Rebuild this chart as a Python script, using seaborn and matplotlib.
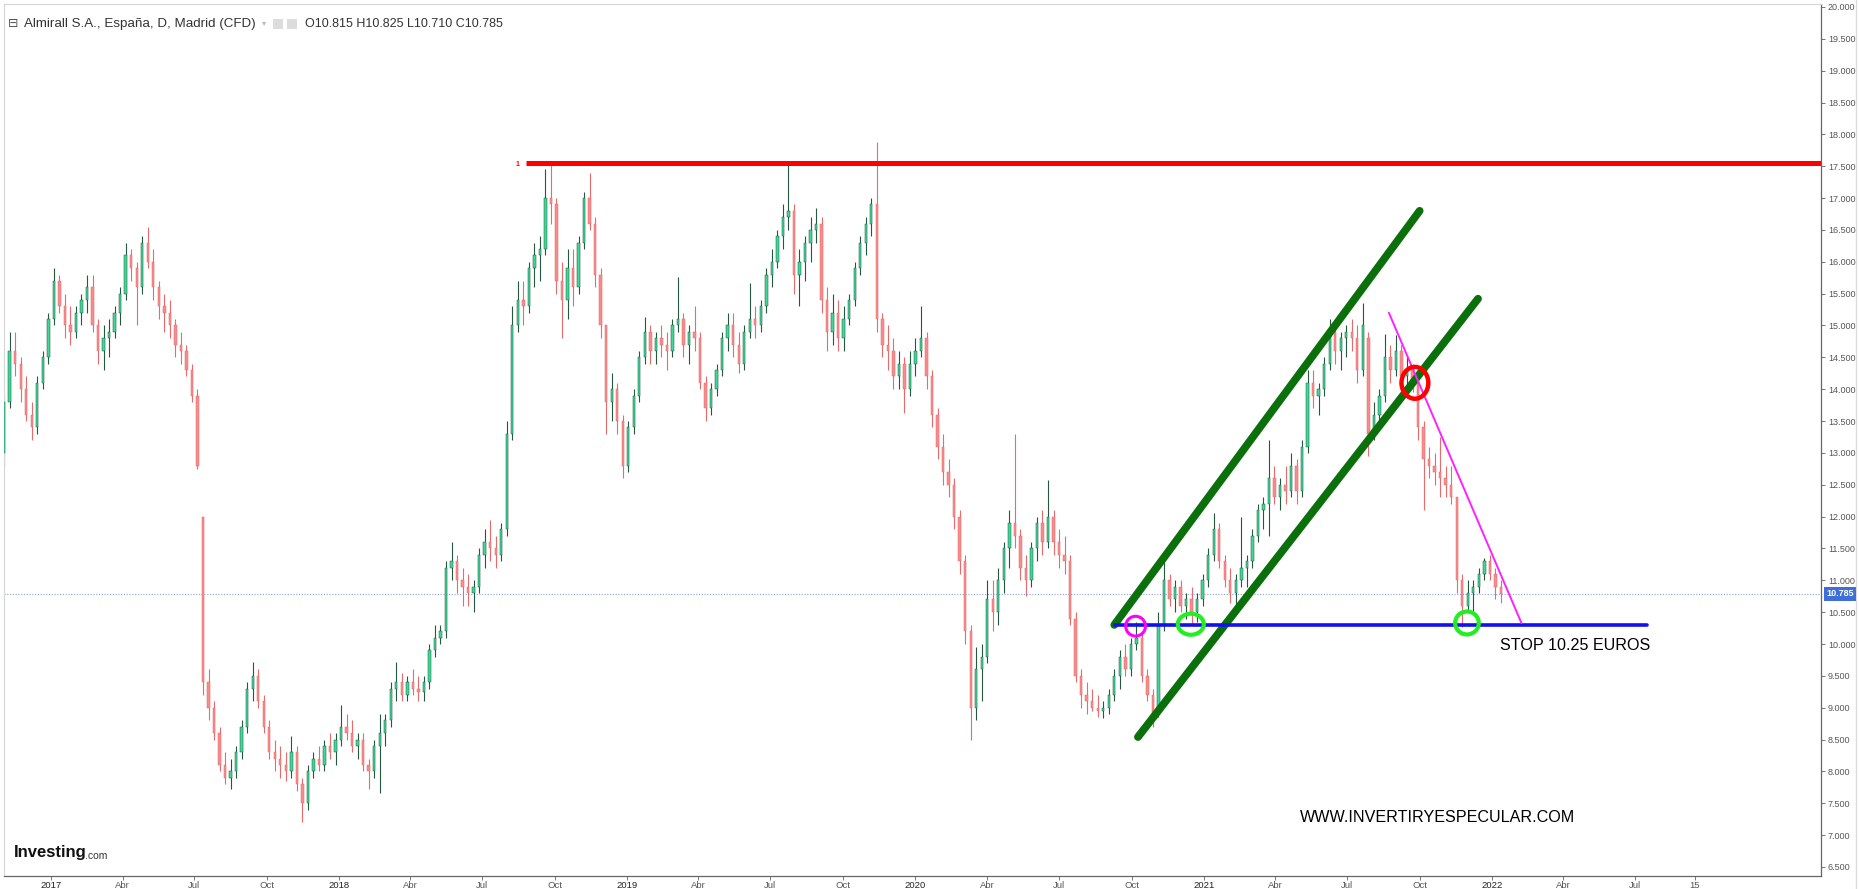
import numpy as np
import pandas as pd
import matplotlib
matplotlib.use("Agg")
import matplotlib.pyplot as plt
import matplotlib.dates as mdates
from matplotlib.patches import Ellipse, Rectangle
import seaborn as sns

# ==========================================
# DATA (weekly candles, first week starts Mon 2016-10-31)
# ==========================================
FIRST_WEEK = "2016-10-31"

opens = [
    13.0, 13.8, 14.6, 14.4, 14.0, 13.6, 13.4, 14.1, 14.5, 15.1,
    15.7, 15.3, 15.0, 14.9, 15.2, 15.4, 15.6, 15.0, 14.6, 14.8,
    14.9, 15.2, 15.5, 16.1, 15.9, 15.6, 16.3, 16.0, 15.6, 15.3,
    15.2, 15.0, 14.7, 14.6, 14.3, 13.9, 12.0, 9.4, 9.0, 8.6,
    8.1, 7.9, 8.0, 8.3, 8.7, 9.3, 9.5, 9.1, 8.7, 8.3,
    8.2, 8.1, 8.0, 8.3, 7.8, 7.5, 8.0, 8.2, 8.1, 8.4,
    8.3, 8.5, 8.7, 8.6, 8.4, 8.5, 8.1, 8.0, 8.4, 8.6,
    8.8, 9.3, 9.4, 9.2, 9.4, 9.3, 9.25, 9.4, 9.9, 10.1,
    10.2, 11.2, 11.3, 11.0, 10.9, 10.8, 10.9, 11.4, 11.6, 11.5,
    11.4, 11.8, 13.3, 15.0, 15.4, 15.3, 15.9, 16.1, 16.2, 17.0,
    16.9, 15.7, 15.4, 15.9, 15.6, 16.3, 17.0, 16.6, 15.8, 15.0,
    13.8, 14.0, 13.5, 12.8, 13.4, 13.9, 14.5, 14.9, 14.6, 14.8,
    14.7, 14.6, 15.0, 15.1, 14.7, 14.9, 14.8, 14.1, 13.7, 14.0,
    14.3, 14.8, 15.0, 14.7, 14.4, 14.9, 15.1, 15.0, 15.3, 15.8,
    16.0, 16.4, 16.7, 16.8, 15.8, 16.0, 16.3, 16.5, 16.6, 15.4,
    14.9, 15.2, 14.8, 15.1, 15.4, 15.9, 16.3, 16.6, 16.9, 15.1,
    14.7, 14.6, 14.2, 14.4, 14.0, 14.4, 14.6, 14.8, 14.2, 13.6,
    13.1, 12.7, 12.5, 12.0, 11.3, 10.2, 9.0, 9.6, 9.8, 10.7,
    10.5, 11.0, 11.5, 11.9, 11.7, 11.2, 11.0, 11.5, 11.9, 11.6,
    12.0, 11.6, 11.4, 11.3, 10.4, 9.5, 9.2, 9.1, 9.0, 8.95,
    9.0, 9.2, 9.5, 9.8, 9.6, 10.0, 10.1, 9.5, 9.2, 8.9,
    10.3, 11.0, 10.7, 10.9, 10.6, 10.7, 10.5, 10.7, 11.0, 11.4,
    11.8, 11.3, 11.0, 10.8, 11.0, 11.2, 11.3, 11.7, 12.1, 12.2,
    12.6, 12.3, 12.5, 12.4, 12.8, 12.4, 13.1, 14.1, 13.9, 14.0,
    14.4, 14.9, 14.6, 14.8, 14.9, 14.8, 14.3, 14.8, 13.3, 13.6,
    13.9, 14.5, 14.3, 14.6, 14.2, 14.3, 14.1, 13.4, 12.9, 12.8,
    12.7, 12.6, 12.5, 12.3, 11.0, 10.6, 10.8, 10.9, 11.1, 11.3,
    11.1, 10.9,
]
highs = [
    13.9, 14.9, 14.9, 14.5, 14.2, 13.8, 14.2, 14.6, 15.2, 15.9,
    15.8, 15.5, 15.3, 15.3, 15.5, 15.8, 15.8, 15.1, 15.0, 15.1,
    15.3, 15.6, 16.3, 16.2, 16.0, 16.4, 16.55, 16.2, 15.7, 15.5,
    15.4, 15.1, 14.9, 14.7, 14.4, 14.0, 12.0, 9.6, 9.1, 8.7,
    8.3, 8.2, 8.4, 8.8, 9.4, 9.72, 9.6, 9.2, 8.8, 8.5,
    8.4, 8.3, 8.55, 8.4, 7.9, 8.1, 8.3, 8.4, 8.5, 8.6,
    8.6, 9.05, 8.9, 8.8, 8.6, 8.6, 8.2, 8.5, 8.9, 8.9,
    9.4, 9.72, 9.55, 9.5, 9.6, 9.5, 9.5, 10.0, 10.3, 10.3,
    11.3, 11.6, 11.4, 11.2, 11.1, 11.0, 11.5, 11.8, 11.95, 11.7,
    11.9, 13.5, 15.3, 15.7, 15.7, 16.0, 16.3, 16.4, 17.45, 17.55,
    17.0, 16.0, 16.2, 16.2, 16.4, 17.1, 17.4, 16.7, 15.9, 15.0,
    14.25, 14.1, 13.6, 13.5, 14.0, 14.6, 15.13, 15.0, 14.9, 15.0,
    14.9, 15.1, 15.76, 15.2, 15.0, 15.3, 14.9, 14.2, 14.1, 14.4,
    14.9, 15.2, 15.2, 14.9, 15.0, 15.67, 15.3, 15.4, 15.9, 16.2,
    16.5, 16.9, 17.55, 16.9, 16.2, 16.4, 16.7, 16.84, 16.7, 15.6,
    15.5, 15.4, 15.3, 15.5, 16.0, 16.4, 16.7, 17.0, 17.88, 15.2,
    15.0, 14.8, 14.6, 14.5, 14.6, 14.8, 15.3, 14.9, 14.3, 13.7,
    13.3, 12.9, 12.6, 12.1, 11.4, 10.3, 9.95, 10.0, 11.0, 11.0,
    11.2, 11.6, 12.1, 13.3, 11.8, 11.4, 11.6, 12.0, 12.1, 12.57,
    12.1, 11.8, 11.7, 11.4, 10.5, 9.6, 9.4, 9.3, 9.2, 9.1,
    9.3, 9.6, 9.9, 10.0, 10.1, 10.35, 10.2, 9.6, 9.3, 10.5,
    11.3, 11.1, 11.0, 11.0, 10.8, 10.9, 10.8, 11.1, 11.5, 12.05,
    11.9, 11.4, 11.2, 11.1, 12.0, 11.4, 11.8, 12.2, 12.3, 13.2,
    12.8, 12.6, 12.8, 13.0, 12.9, 13.2, 14.3, 14.3, 14.1, 14.5,
    15.1, 15.0, 14.9, 15.0, 15.1, 15.0, 15.35, 14.9, 13.8, 14.0,
    14.86, 14.7, 14.85, 14.7, 14.5, 14.4, 14.2, 13.5, 13.1, 13.0,
    13.25, 12.8, 12.8, 12.3, 11.1, 11.0, 11.0, 11.2, 11.35, 11.4,
    11.2, 11.0,
]
lows = [
    12.8, 13.7, 14.2, 13.8, 13.5, 13.2, 13.3, 14.0, 14.4, 15.0,
    15.2, 14.8, 14.7, 14.8, 15.0, 15.2, 14.9, 14.4, 14.3, 14.5,
    14.8, 15.0, 15.4, 15.7, 15.0, 15.5, 15.9, 15.4, 15.1, 14.9,
    14.8, 14.5, 14.4, 14.2, 13.8, 12.75, 9.2, 8.8, 8.5, 8.0,
    7.8, 7.72, 7.9, 8.2, 8.6, 9.1, 9.0, 8.6, 8.2, 8.0,
    7.9, 7.85, 7.9, 7.7, 7.2, 7.4, 7.9, 8.0, 8.0, 8.2,
    8.1, 8.4, 8.5, 8.3, 8.2, 8.0, 7.72, 7.9, 7.66, 8.4,
    8.7, 9.1, 9.1, 9.1, 9.2, 9.1, 9.1, 9.3, 9.8, 10.0,
    10.1, 11.0, 10.8, 10.6, 10.6, 10.5, 10.8, 11.2, 11.3, 11.2,
    11.3, 11.7, 13.2, 14.9, 15.0, 15.2, 15.6, 15.7, 16.1, 16.6,
    15.5, 14.8, 15.1, 15.3, 15.5, 16.2, 16.5, 15.6, 14.8, 13.3,
    13.5, 13.3, 12.6, 12.7, 13.3, 13.8, 14.4, 14.4, 14.4, 14.5,
    14.3, 14.5, 14.9, 14.5, 14.4, 14.6, 14.0, 13.5, 13.6, 13.9,
    14.2, 14.6, 14.5, 14.25, 14.3, 14.8, 14.8, 14.9, 15.2, 15.6,
    15.9, 16.2, 16.5, 15.5, 15.3, 15.7, 16.0, 16.3, 15.2, 14.6,
    14.7, 14.6, 14.6, 15.0, 15.3, 15.8, 16.1, 16.4, 14.9, 14.5,
    14.3, 14.0, 14.0, 13.63, 13.9, 14.2, 14.5, 14.0, 13.4, 12.9,
    12.5, 12.3, 11.8, 11.1, 10.0, 8.5, 8.8, 9.1, 9.7, 10.2,
    10.3, 10.8, 11.2, 11.5, 11.0, 10.75, 10.9, 11.3, 11.4, 11.5,
    11.4, 11.2, 11.1, 10.3, 9.4, 9.0, 8.9, 8.95, 8.85, 8.84,
    8.9, 9.1, 9.3, 9.5, 9.5, 9.9, 9.4, 9.1, 8.7, 8.85,
    10.2, 10.6, 10.5, 10.5, 10.4, 10.3, 10.35, 10.6, 10.9, 11.3,
    11.2, 10.9, 10.65, 10.6, 10.9, 10.9, 11.2, 11.6, 11.8, 11.7,
    12.2, 12.1, 12.2, 12.3, 12.2, 12.3, 13.0, 13.7, 13.6, 13.9,
    14.3, 14.4, 14.3, 14.5, 14.6, 14.1, 14.2, 12.95, 13.2, 13.4,
    13.8, 14.1, 14.2, 14.0, 13.9, 13.95, 13.2, 12.1, 12.6, 12.5,
    12.3, 12.3, 12.2, 10.8, 10.27, 10.5, 10.5, 10.8, 11.0, 11.0,
    10.7, 10.64,
]
closes = [
    13.8, 14.6, 14.4, 14.0, 13.6, 13.4, 14.1, 14.5, 15.1, 15.7,
    15.3, 15.0, 14.9, 15.2, 15.4, 15.6, 15.0, 14.6, 14.8, 14.9,
    15.2, 15.5, 16.1, 15.9, 15.6, 16.3, 16.0, 15.6, 15.3, 15.2,
    15.0, 14.7, 14.6, 14.3, 13.9, 12.8, 9.4, 9.0, 8.6, 8.1,
    7.9, 8.0, 8.3, 8.7, 9.3, 9.5, 9.1, 8.7, 8.3, 8.2,
    8.1, 8.0, 8.3, 7.8, 7.5, 8.0, 8.2, 8.1, 8.4, 8.3,
    8.5, 8.7, 8.6, 8.4, 8.5, 8.1, 8.0, 8.4, 8.6, 8.8,
    9.3, 9.4, 9.2, 9.4, 9.3, 9.25, 9.4, 9.9, 10.1, 10.2,
    11.2, 11.3, 11.0, 10.9, 10.8, 10.9, 11.4, 11.6, 11.5, 11.4,
    11.8, 13.3, 15.0, 15.4, 15.3, 15.9, 16.1, 16.2, 17.0, 16.9,
    15.7, 15.4, 15.9, 15.6, 16.3, 17.0, 16.6, 15.8, 15.0, 13.8,
    14.0, 13.5, 12.8, 13.4, 13.9, 14.5, 14.9, 14.6, 14.8, 14.7,
    14.6, 15.0, 15.1, 14.7, 14.9, 14.8, 14.1, 13.7, 14.0, 14.3,
    14.8, 15.0, 14.7, 14.4, 14.9, 15.1, 15.0, 15.3, 15.8, 16.0,
    16.4, 16.7, 16.8, 15.8, 16.0, 16.3, 16.5, 16.6, 15.4, 14.9,
    15.2, 14.8, 15.1, 15.4, 15.9, 16.3, 16.6, 16.9, 15.1, 14.7,
    14.6, 14.2, 14.4, 14.0, 14.4, 14.6, 14.8, 14.2, 13.6, 13.1,
    12.7, 12.5, 12.0, 11.3, 10.2, 9.0, 9.6, 9.8, 10.7, 10.5,
    11.0, 11.5, 11.9, 11.7, 11.2, 11.0, 11.5, 11.9, 11.6, 12.0,
    11.6, 11.4, 11.3, 10.4, 9.5, 9.2, 9.1, 9.0, 8.95, 9.0,
    9.2, 9.5, 9.8, 9.6, 10.0, 10.1, 9.5, 9.2, 8.9, 10.3,
    11.0, 10.7, 10.9, 10.6, 10.7, 10.5, 10.7, 11.0, 11.4, 11.8,
    11.3, 11.0, 10.8, 11.0, 11.2, 11.3, 11.7, 12.1, 12.2, 12.6,
    12.3, 12.5, 12.4, 12.8, 12.4, 13.1, 14.1, 13.9, 14.0, 14.4,
    14.9, 14.6, 14.8, 14.9, 14.8, 14.3, 15.0, 13.3, 13.6, 13.9,
    14.5, 14.3, 14.6, 14.2, 14.3, 14.1, 13.4, 12.9, 12.8, 12.7,
    12.6, 12.5, 12.3, 11.0, 10.6, 10.8, 10.9, 11.1, 11.3, 11.1,
    10.9, 10.785,
]

LAST_PRICE = 10.785
RESISTANCE = 17.55
STOP_LEVEL = 10.30

y_ticks = np.arange(6.5, 20.01, 0.5)
x_tick_dates = ["2017-01-01", "2017-04-01", "2017-07-01", "2017-10-01",
                "2018-01-01", "2018-04-01", "2018-07-01", "2018-10-01",
                "2019-01-01", "2019-04-01", "2019-07-01", "2019-10-01",
                "2020-01-01", "2020-04-01", "2020-07-01", "2020-10-01",
                "2021-01-01", "2021-04-01", "2021-07-01", "2021-10-01",
                "2022-01-01", "2022-04-01", "2022-07-01", "2022-09-15"]
x_tick_labels = ["2017", "Abr", "Jul", "Oct", "2018", "Abr", "Jul", "Oct",
                 "2019", "Abr", "Jul", "Oct", "2020", "Abr", "Jul", "Oct",
                 "2021", "Abr", "Jul", "Oct", "2022", "Abr", "Jul", "15"]

# hand drawn annotations (date, price)
channel_upper = [("2020-09-09", 10.30), ("2021-10-01", 16.80)]
channel_lower = [("2020-10-09", 8.54), ("2021-12-14", 15.42)]
stop_line = [("2020-09-10", STOP_LEVEL), ("2022-07-16", STOP_LEVEL)]
down_trend = [("2021-08-23", 15.20), ("2022-02-07", 10.33)]
# circles: date, price, width (days), height (price), colour, line width
circles = [
    ("2020-10-06", 10.28, 25, 0.31, "#ff00ff", 2.2),
    ("2020-12-15", 10.31, 33, 0.33, "#22ee22", 3.0),
    ("2021-11-30", 10.33, 30, 0.36, "#22ee22", 3.0),
    ("2021-09-25", 14.10, 34, 0.50, "#ff0000", 3.2),
]

W, H = 1859, 889


def fx(px):
    return px / W


def fy(py):
    return 1 - py / H


def dnum(s):
    return mdates.date2num(pd.Timestamp(s))


sns.set_theme(style="white")
plt.rcParams["font.family"] = ["Liberation Sans", "DejaVu Sans"]

fig = plt.figure(figsize=(W / 100, H / 100), dpi=100)
ax = fig.add_axes([fx(4), fy(876), fx(1821) - fx(4), fy(4) - fy(876)])

# ------------------------------------------
# CANDLES
# ------------------------------------------
weeks = pd.date_range(FIRST_WEEK, periods=len(closes), freq="7D")
xc = mdates.date2num(weeks + pd.Timedelta(days=2))
o = np.array(opens)
h = np.array(highs)
l = np.array(lows)
c = np.array(closes)
up = c >= o

ax.vlines(xc, l, h, colors=np.where(up, "#24583f", "#e86a6a"), lw=0.8, zorder=2)
ax.bar(xc, np.maximum(np.abs(c - o), 0.03), bottom=np.minimum(o, c), width=3.0,
       color=np.where(up, "#3ed898", "#f78c8c"),
       edgecolor=np.where(up, "#24583f", "#e86a6a"), linewidth=0.35, zorder=3)

# last price dotted line
ax.axhline(LAST_PRICE, color="#8aa4e6", lw=0.8, ls=(0, (1, 1.5)), zorder=1)

# ------------------------------------------
# ANNOTATIONS
# ------------------------------------------
x0 = dnum("2017-01-01") - 60.2
x1 = dnum("2017-01-01") + 2242.7

ax.plot([dnum("2018-08-26"), x1], [RESISTANCE, RESISTANCE], color="#ff0000",
        lw=3.6, solid_capstyle="butt", zorder=5)
ax.text(dnum("2018-08-14"), RESISTANCE - 0.03, "1", color="#ff0000", fontsize=5,
        fontweight="bold", ha="center", va="center", zorder=5)


def draw_seg(pts, color, lw):
    seg = pd.DataFrame({"x": [dnum(d) for d, _ in pts], "y": [v for _, v in pts]})
    sns.lineplot(data=seg, x="x", y="y", ax=ax, color=color, lw=lw,
                 sort=False, estimator=None, zorder=6)


draw_seg(channel_upper, "#0b6f0b", 5.6)
draw_seg(channel_lower, "#0b6f0b", 5.6)
draw_seg(stop_line, "#1010f0", 2.6)
draw_seg(down_trend, "#ff22ff", 1.4)

for d, v, wd, ht, col, lw in circles:
    ax.add_patch(Ellipse((dnum(d), v), wd, ht, fill=False, edgecolor=col,
                         lw=lw, zorder=7))

ax.text(dnum("2022-01-11"), 9.906, "STOP 10.25 EUROS", fontsize=11.6,
        color="black", ha="left", va="baseline", zorder=8)
ax.text(dnum("2021-05-02"), 7.206, "WWW.INVERTIRYESPECULAR.COM", fontsize=11.6,
        color="black", ha="left", va="baseline", zorder=8)

# ------------------------------------------
# AXES
# ------------------------------------------
ax.set_xlim(x0, x1)
ax.set_ylim(6.358, 20.047)
ax.set_xlabel("")
ax.set_ylabel("")

ax.yaxis.tick_right()
ax.set_yticks(y_ticks)
ax.set_yticklabels([f"{v:.3f}" for v in y_ticks])
ax.tick_params(axis="y", direction="out", length=3, width=0.7, color="#777",
               labelsize=6.5, labelcolor="#555", pad=2, right=True, left=False)

ax.set_xticks([dnum(d) for d in x_tick_dates])
ax.set_xticklabels(x_tick_labels)
ax.tick_params(axis="x", direction="out", length=3, width=0.7, color="#777",
               labelsize=6.8, labelcolor="#555", pad=0.5, bottom=True)
for lab in ax.get_xticklabels():
    if lab.get_text().isdigit() and len(lab.get_text()) == 4:
        lab.set_color("#222")

for side in ["left", "top"]:
    ax.spines[side].set_color("#d6d6d6")
    ax.spines[side].set_linewidth(0.8)
for side in ["right", "bottom"]:
    ax.spines[side].set_color("#666")
    ax.spines[side].set_linewidth(0.9)
ax.grid(False)

# price tag on the scale
fig.text(fx(1840), fy(594), "10.785", ha="center", va="center", color="white",
         fontsize=6.5, fontweight="bold",
         bbox=dict(boxstyle="square,pad=0.25", fc="#3e6fd9", ec="none"))

# header
fig.text(fx(8), fy(24), "\u229f", fontsize=9, color="#555", ha="left", va="center")
fig.text(fx(24), fy(24), "Almirall S.A., España, D, Madrid (CFD)", fontsize=9.6,
         color="#333", ha="left", va="center")
fig.text(fx(262), fy(24), "\u25be", fontsize=6, color="#bbb", ha="left", va="center")
for px in (273, 287):
    fig.patches.append(Rectangle((fx(px), fy(29)), fx(10), 10 / H,
                                 transform=fig.transFigure, fc="#dcdcdc",
                                 ec="none"))
fig.text(fx(305), fy(24), "O10.815 H10.825 L10.710 C10.785", fontsize=9,
         color="#333", ha="left", va="center")

# logo
fig.text(fx(14), fy(853), "Investing", fontsize=12, fontweight="bold",
         color="#111", ha="left", va="center")
fig.text(fx(85), fy(856), ".com", fontsize=7.5, color="#333",
         ha="left", va="center")

# outer border of the price scale
fig.lines.append(plt.Line2D([fx(1856), fx(1856)], [0, 1],
                            transform=fig.transFigure, color="#dddddd", lw=1))

fig.savefig("out.png", dpi=100)
